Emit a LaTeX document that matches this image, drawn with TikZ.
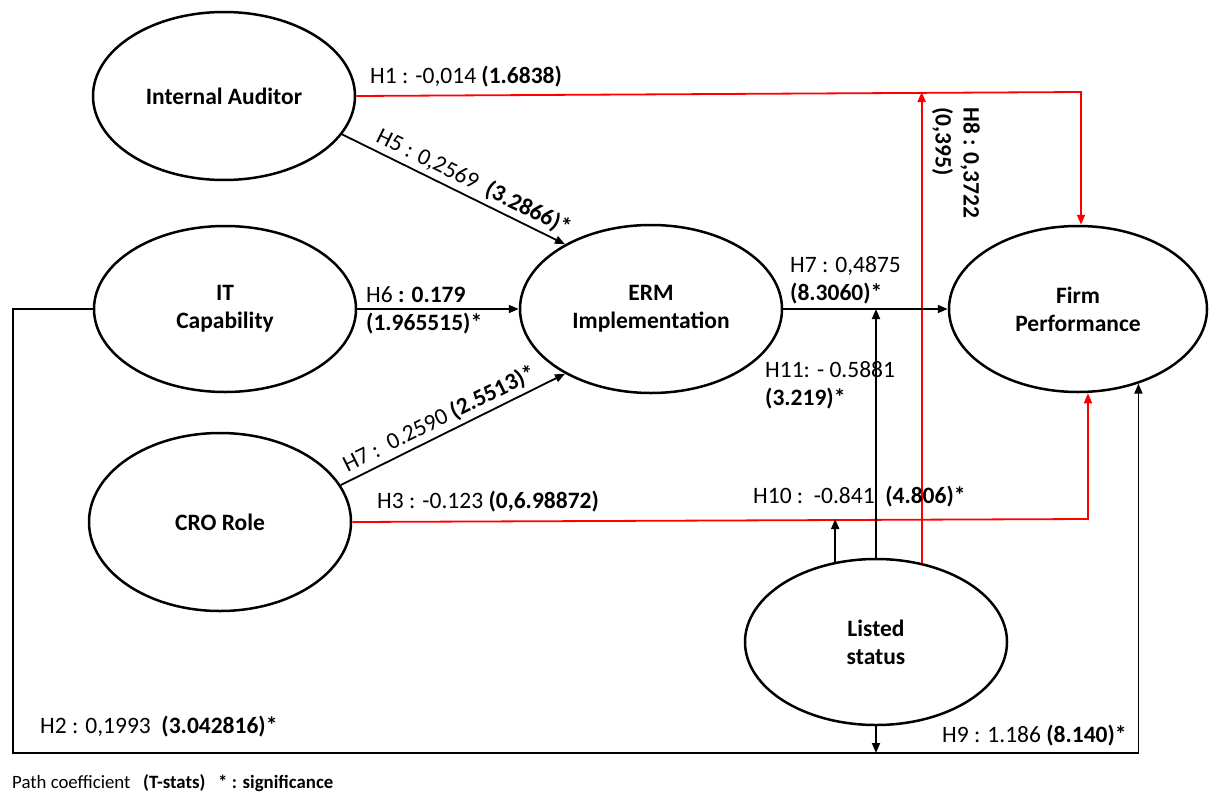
\documentclass[tikz,border=0pt]{standalone}
\usepackage{fontspec}
\setmainfont{Carlito}
\usetikzlibrary{shapes.geometric,arrows.meta}
\definecolor{pathred}{RGB}{255,0,0}
\begin{document}
\begin{tikzpicture}[x=1pt,y=-1pt,
  latent/.style={ellipse,draw,line width=2.5pt,inner sep=0pt,minimum width=262pt,minimum height=168pt,align=center,font=\fontsize{23.5}{28}\selectfont\bfseries},
  arr/.style={line width=1.8pt,-{Triangle[length=10pt,width=8pt]}},
  redarr/.style={arr,draw=pathred,color=pathred},
  lbl/.style={inner sep=0pt,anchor=base west,font=\fontsize{23.5}{28}\selectfont},
  slbl/.style={font=\fontsize{23.5}{28}\selectfont,sloped,above,inner sep=4pt,text=black}
]
\fill[white] (0,0) rectangle (1209,792);
\useasboundingbox (0,0) rectangle (1209,792);

% latent variables
\node[latent] (ia) at (224,96) {Internal Auditor};
\node[latent,minimum height=166pt] (it) at (225,309) {IT\\Capability};
\node[latent,minimum height=178pt] (cro) at (220,522) {CRO Role};
\node[latent] (erm) at (651,309) {ERM\\Implementation};
\node[latent,minimum width=258pt,minimum height=166pt] (fp) at (1078,309) {Firm\\Performance};
\node[latent,minimum height=166pt] (ls) at (876,642) {Listed\\status};

% helper coordinates
\coordinate (h1c) at (1081,92);
\coordinate (h3c) at (1088,519);
\coordinate (h2a) at (13,753);

% connectors
\draw[redarr] (ia.east) -- (h1c) -- (h1c |- fp.north);
\draw[redarr] (ls.60.6) -- (ls.60.6 |- h1c);
\draw[arr] (ia.-18.6) -- node[slbl,pos=0.56] (h5l) {H5 : 0,2569\ \ \textbf{(3.2866)*}} (erm.143.2);
\draw[arr] (it.east) -- (erm.west);
\draw[arr] (cro.17) -- node[slbl,pos=0.47] (h7bl) {H7 :\ \ 0.2590 \textbf{(2.5513)*}} (erm.-143.3);
\draw[redarr] (cro.east) -- (h3c) -- (h3c |- fp.south);
\draw[arr] (erm.east) -- (fp.west);
\draw[arr] (ls.north) -- (ls.north |- erm.east);
\draw[arr] (ls.117) -- (ls.117 |- h3c);
\draw[arr] (it.west) -| (h2a) -| (fp.-51.9);
\draw[arr] (ls.south) -- (ls.south |- h2a);

% labels
\node[lbl] (h1l) at (370,83) {H1 : -0,014 \textbf{(1.6838)}};
\node[rotate=-90,anchor=north west,inner sep=0pt,align=left,font=\fontsize{23.5}{28}\selectfont\bfseries] (h8l) at (980,107) {H8 : 0,3722\\(0,395)};
\node[lbl] (h6a) at (366,302) {H6 \textbf{: 0.179}};
\node[lbl] (h6b) at (366,330) {\textbf{(1.965515)*}};
\node[lbl] (h3l) at (377,508) {H3 : -0.123 \textbf{(0,6.98872)}};
\node[lbl] (h7a) at (790,272) {H7 : 0,4875};
\node[lbl] (h7b) at (790,300) {\textbf{(8.3060)*}};
\node[lbl] (h11a) at (765,377) {H11: - 0.5881};
\node[lbl] (h11b) at (765,405) {\textbf{(3.219)*}};
\node[lbl] (h10l) at (753,503) {H10 :\ \ -0.841\ \ \textbf{(4.806)*}};
\node[lbl] (h2l) at (40,733) {H2 : 0,1993\ \ \textbf{(3.042816)*}};
\node[lbl] (h9l) at (942,742) {H9 : 1.186 \textbf{(8.140)*}};
\node[lbl,font=\fontsize{18.8}{22}\selectfont] (foot) at (12,788) {Path coefficient\ \ \ \textbf{(T-stats)}\ \ \ \textbf{* : significance}};
\end{tikzpicture}
\end{document}
